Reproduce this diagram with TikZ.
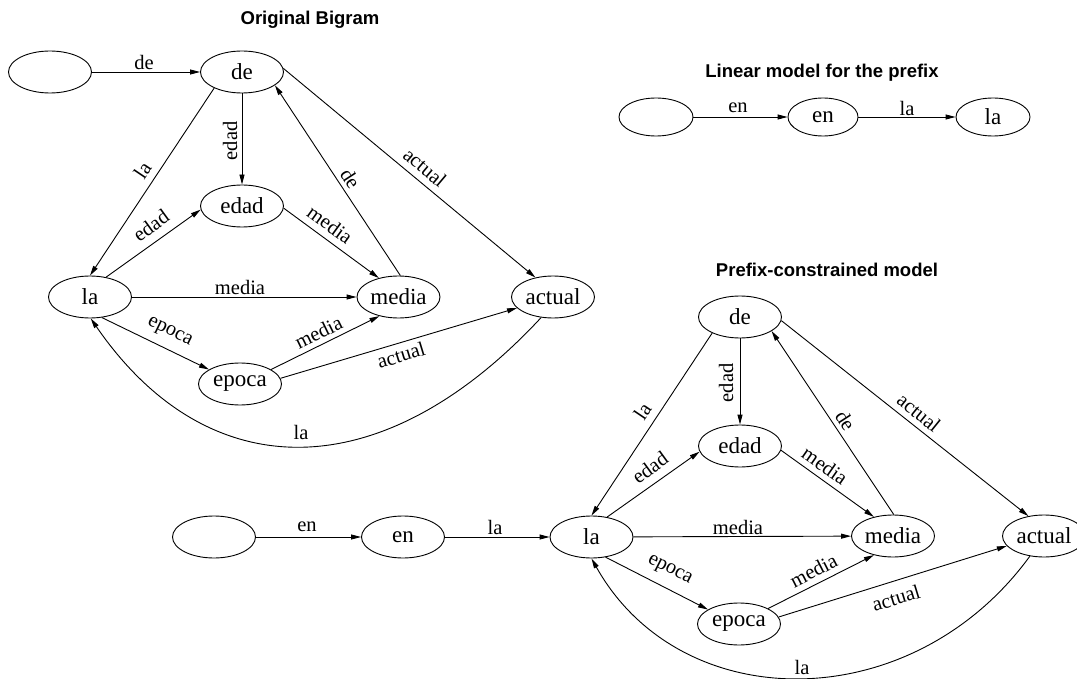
\documentclass[tikz,border=0pt]{standalone}
\usepackage{fontspec}
\setmainfont{Liberation Serif}
\newfontfamily\headfont{Liberation Sans}
\usetikzlibrary{shapes.geometric,arrows.meta}
\begin{document}
\begin{tikzpicture}[x=1pt,y=-1pt,
  state/.style={draw, ellipse, line width=0.9pt, minimum width=83pt, minimum height=42pt,
    inner sep=0pt, font=\fontsize{23}{26}\selectfont},
  smallstate/.style={state, minimum width=74pt, minimum height=38pt},
  arr/.style={draw, line width=0.9pt, -{Triangle[length=10pt,width=5pt]}},
  lbl/.style={font=\fontsize{20.5}{24}\selectfont, inner sep=0pt},
  title/.style={font=\headfont\bfseries\fontsize{18.5}{22}\selectfont}]
\useasboundingbox (0,0) rectangle (1077,679);

% ---------- titles ----------
\node[title] (t1) at (310,20) {Original Bigram};
\node[title] (t2) at (822,73) {Linear model for the prefix};
\node[title] (t3) at (827,270) {Prefix-constrained model};

% ---------- original bigram ----------
\node[state] (s0) at (50,72) {};
\node[state] (de) at (242,72) {de};
\node[state] (edad) at (242,206) {edad};
\node[state] (la) at (90,297) {la};
\node[state] (media) at (398.5,297) {media};
\node[state] (actual) at (553,297) {actual};
\node[state] (epoca) at (240,384) {epoca};

\draw[arr] (s0) -- (de) node[lbl] at (144,62) {de};
\draw[arr] (de.210) -- (la.90) node[lbl, rotate=56] at (142.5,170.5) {la};
\draw[arr] (de) -- (edad) node[lbl, rotate=90] at (230,141) {edad};
\draw[arr] (media.85) -- (de.338) node[lbl, rotate=-57] at (350.5,178.5) {de};
\draw[arr] (de.5) -- (actual.132) node[lbl, rotate=-40] at (425,167.5) {actual};
\draw[arr] (la.51) -- (edad.185) node[lbl, rotate=36] at (151,225.5) {edad};
\draw[arr] (edad.357) -- (media.136) node[lbl, rotate=-36] at (330,224.5) {media};
\draw[arr] (la) -- (media) node[lbl] at (240,287) {media};
\draw[arr] (la.300) -- (epoca.155) node[lbl, rotate=-26] at (169.5,332.5) {epoca};
\draw[arr] (epoca.25) -- (media.225) node[lbl, rotate=26] at (318.5,332.5) {media};
\draw[arr] (epoca.8) -- (actual.197) node[lbl, rotate=17] at (401,355) {actual};
\draw[arr] (actual.240) .. controls (382,489) and (208,489) .. (la.272)
  node[lbl] at (301,432) {la};

% ---------- linear model for the prefix ----------
\node[smallstate] (p0) at (656,117) {};
\node[smallstate, minimum width=70pt] (pen) at (823,117) {en};
\node[smallstate] (pla) at (993,117) {la};
\draw[arr] (p0) -- (pen) node[lbl] at (738,108) {en};
\draw[arr] (pen) -- (pla) node[lbl] at (907,108) {la};

% ---------- prefix-constrained model ----------
\node[state] (b0) at (214,537) {};
\node[state] (ben) at (403,537) {en};
\node[state] (bla) at (591.5,537) {la};
\node[state] (bde) at (740,317) {de};
\node[state] (bedad) at (740,446) {edad};
\node[state] (bmedia) at (893,536) {media};
\node[state] (bactual) at (1044,536) {actual};
\node[state] (bepoca) at (739,624) {epoca};

\draw[arr] (b0) -- (ben) node[lbl] at (307,527) {en};
\draw[arr] (ben) -- (bla) node[lbl] at (495,527) {la};
\draw[arr] (bde.210) -- (bla.90) node[lbl, rotate=56] at (642.5,411.5) {la};
\draw[arr] (bde) -- (bedad) node[lbl, rotate=90] at (726,383) {edad};
\draw[arr] (bmedia.88) -- (bde.336) node[lbl, rotate=-57] at (845.5,420.5) {de};
\draw[arr] (bde.355) -- (bactual.128) node[lbl, rotate=-39] at (919,412.5) {actual};
\draw[arr] (bla.52) -- (bedad.188) node[lbl, rotate=36] at (650,467.5) {edad};
\draw[arr] (bedad.354) -- (bmedia.135) node[lbl, rotate=-35] at (825,465.5) {media};
\draw[arr] (bla) -- (bmedia) node[lbl] at (738,527) {media};
\draw[arr] (bla.305) -- (bepoca.155) node[lbl, rotate=-27] at (669.5,570.5) {epoca};
\draw[arr] (bepoca.28) -- (bmedia.225) node[lbl, rotate=27] at (813.5,570.5) {media};
\draw[arr] (bepoca.10) -- (bactual.195) node[lbl, rotate=17] at (896,598) {actual};
\draw[arr] (bactual.235) .. controls (912,718) and (681,718) .. (bla.270)
  node[lbl] at (802,667) {la};
\end{tikzpicture}
\end{document}
